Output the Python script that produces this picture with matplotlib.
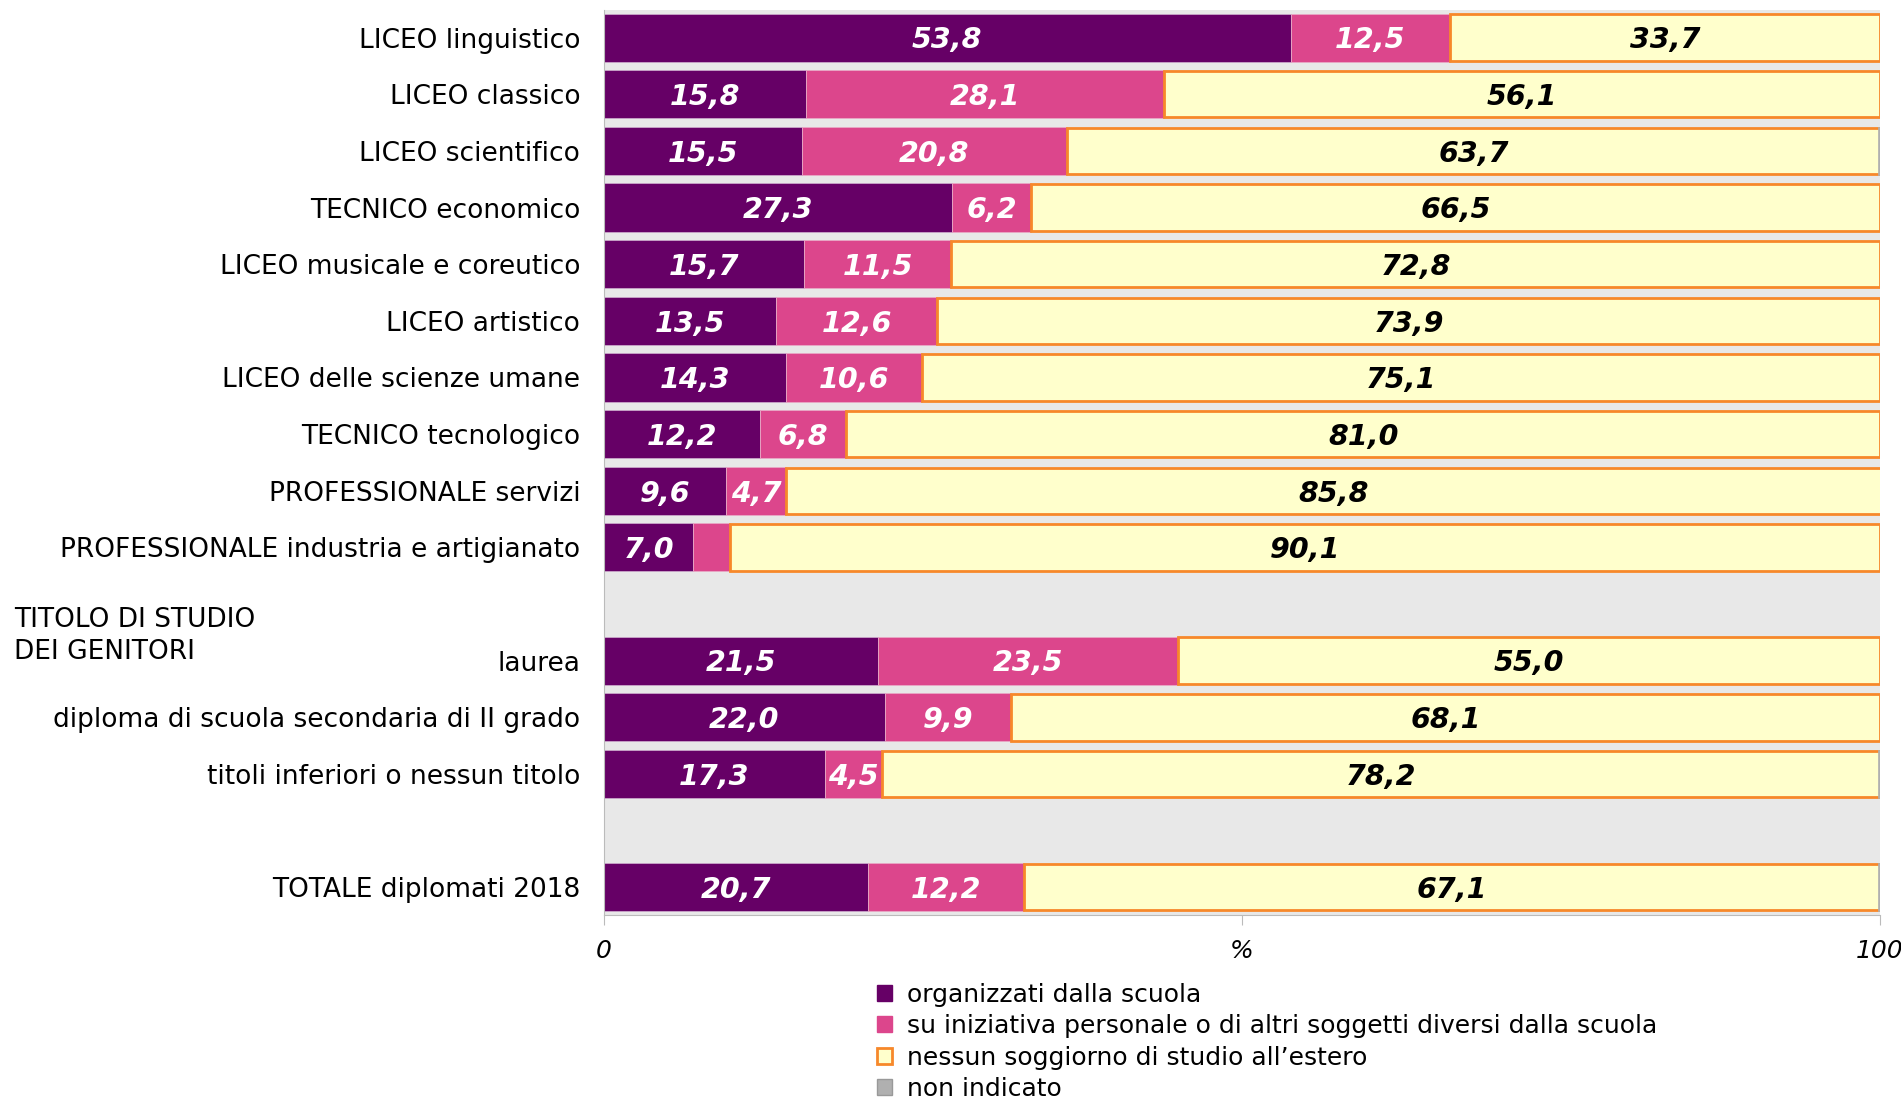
import numpy as np
import matplotlib
matplotlib.use("Agg")
import matplotlib.pyplot as plt
from matplotlib.patches import Patch

# categories, grouped (a blank row separates each group)
group_1 = ["LICEO linguistico", "LICEO classico", "LICEO scientifico",
           "TECNICO economico", "LICEO musicale e coreutico", "LICEO artistico",
           "LICEO delle scienze umane", "TECNICO tecnologico",
           "PROFESSIONALE servizi", "PROFESSIONALE industria e artigianato"]
group_2 = ["laurea", "diploma di scuola secondaria di II grado",
           "titoli inferiori o nessun titolo"]
group_3 = ["TOTALE diplomati 2018"]

scuola = [53.8, 15.8, 15.5, 27.3, 15.7, 13.5, 14.3, 12.2, 9.6, 7.0,
          21.5, 22.0, 17.3,
          20.7]
iniziativa = [12.5, 28.1, 20.8, 6.2, 11.5, 12.6, 10.6, 6.8, 4.7, 2.9,
              23.5, 9.9, 4.5,
              12.2]
nessuno = [33.7, 56.1, 63.7, 66.5, 72.8, 73.9, 75.1, 81.0, 85.8, 90.1,
           55.0, 68.1, 78.2,
           67.1]
non_indicato = [0.0, 0.0, 0.2, 0.0, 0.0, 0.0, 0.0, 0.0, 0.0, 0.0,
                0.0, 0.0, 0.2,
                0.2]

legend_labels = ["organizzati dalla scuola",
                 "su iniziativa personale o di altri soggetti diversi dalla scuola",
                 "nessun soggiorno di studio all\u2019estero",
                 "non indicato"]

PURPLE = "#660066"
PINK = "#dc468c"
YELLOW = "#ffffcc"
ORANGE = "#f7882a"
GREY = "#b0b0b0"
BG = "#e8e8e8"

plt.rcParams["font.family"] = "DejaVu Sans"

# y positions: one empty slot between groups
ypos = []
y = 0
for g in [group_1, group_2, group_3]:
    for _ in g:
        ypos.append(y)
        y += 1
    y += 1
labels = group_1 + group_2 + group_3
ypos = np.array(ypos)

fig = plt.figure(figsize=(19.01, 10.98), dpi=100)
ax = fig.add_axes([0.3177, 0.1667, 0.6713, 0.8243])
ax.set_facecolor(BG)

h = 0.85
s1 = np.array(scuola)
s2 = np.array(iniziativa)
s3 = np.array(nessuno)
s4 = np.array(non_indicato)

ax.barh(ypos, s1, height=h, color=PURPLE, edgecolor="#c9a6c9", linewidth=0.6)
ax.barh(ypos, s2, left=s1, height=h, color=PINK, edgecolor="#e9a9c6", linewidth=0.6)
ax.barh(ypos, s3, left=s1 + s2, height=h - 0.03, color=YELLOW, edgecolor=ORANGE,
        linewidth=2.0)
mask = s4 > 0
ax.barh(ypos[mask], s4[mask], left=100 - s4[mask], height=h, color=GREY,
        edgecolor=GREY, linewidth=0.5)


def fmt(v):
    return f"{v:.1f}".replace(".", ",")


val_font = dict(fontsize=20.5, fontweight="bold", fontstyle="italic",
                ha="center", va="center")
dy = 0.05
for yy, a, b, c in zip(ypos, s1, s2, s3):
    ax.text(a / 2, yy + dy, fmt(a), color="white", **val_font)
    if b >= 3:
        ax.text(a + b / 2, yy + dy, fmt(b), color="white", **val_font)
    ax.text(a + b + c / 2, yy + dy, fmt(c), color="black", **val_font)

ax.set_xlim(0, 100)
ax.set_ylim(ypos.max() + 0.49, -0.49)
ax.set_yticks(ypos)
ax.set_yticklabels(labels, fontsize=19)
ax.tick_params(axis="y", length=0, pad=17)
ax.set_xticks([0, 50, 100])
ax.set_xticklabels(["0", "%", "100"], fontsize=18, fontstyle="italic")
ax.tick_params(axis="x", length=7, color="#bbbbbb", pad=10)

for side in ["top", "right"]:
    ax.spines[side].set_visible(False)
ax.spines["left"].set_color("#bbbbbb")
ax.spines["bottom"].set_color("#bbbbbb")

fig.text(0.0076, 0.447, "TITOLO DI STUDIO\nDEI GENITORI", fontsize=19,
         ha="left", va="top", linespacing=1.3)

handles = [Patch(facecolor=PURPLE, edgecolor=PURPLE),
           Patch(facecolor=PINK, edgecolor=PINK),
           Patch(facecolor=YELLOW, edgecolor=ORANGE, linewidth=2),
           Patch(facecolor=GREY, edgecolor="#999999")]
fig.legend(handles, legend_labels, loc="upper left",
           bbox_to_anchor=(0.4615, 0.105), frameon=False, fontsize=18,
           handlelength=0.6, handleheight=0.6, handletextpad=0.6,
           labelspacing=0.3, borderpad=0, borderaxespad=0)

fig.savefig("out.png", dpi=100)
